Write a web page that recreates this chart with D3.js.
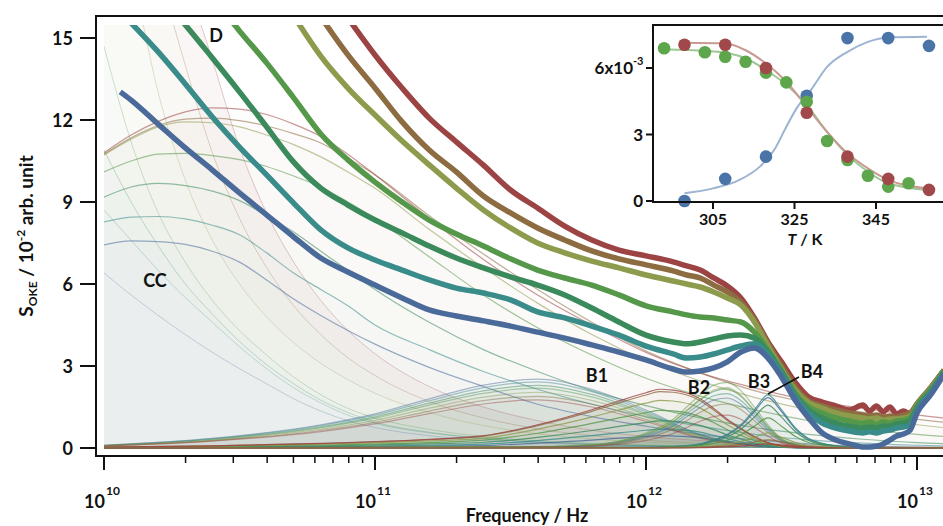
<!DOCTYPE html>
<html>
<head>
<meta charset="utf-8">
<script src="https://cdn.jsdelivr.net/npm/d3@7"></script>
<style>
  body { margin: 0; background: #fff; }
  svg { display: block; }
  text { font-family: Lato, "Open Sans", sans-serif; font-weight: 700; fill: #111; }
</style>
</head>
<body>
<div id="chart"></div>
<script>
// temperatures, low (blue) to high (red)
var tempColors = ["#4a6a9a", "#3a8c8a", "#3b8a5c", "#55984a", "#8c9c4c", "#8c6c40", "#9c4444"];

// total spectra, log10(frequency / Hz)
var logFreqTotal = [10.06, 10.1, 10.2, 10.3, 10.4, 10.5, 10.6, 10.7, 10.8, 10.9, 11.0, 11.1, 11.2, 11.3, 11.4, 11.5, 11.6, 11.7, 11.8, 11.9,
  12.0, 12.1, 12.15, 12.2, 12.25, 12.3, 12.35, 12.4, 12.45, 12.5, 12.55, 12.6, 12.65, 12.7, 12.75, 12.8, 12.825, 12.85, 12.875, 12.9,
  12.925, 12.95, 12.975, 13.0, 13.05, 13.1];
var totalBlue = [13.03, 12.73, 11.85, 10.98, 10.17, 9.33, 8.53, 7.72, 6.95, 6.44, 5.96, 5.49, 5.05, 4.83, 4.65, 4.46, 4.24, 4.02, 3.77, 3.51,
  3.22, 2.89, 2.78, 2.82, 2.93, 3.15, 3.51, 3.66, 3.29, 2.60, 1.76, 1.10, 0.55, 0.29, 0.15, 0.04, 0.04, 0.07, 0.15, 0.29,
  0.44, 0.51, 0.66, 1.28, 1.94, 2.71];
var totalTeal = [null, 15.55, 14.49, 13.32, 12.11, 11.01, 9.99, 8.96, 7.98, 7.32, 6.88, 6.51, 6.15, 5.85, 5.67, 5.42, 4.98, 4.76, 4.46, 4.13,
  3.73, 3.44, 3.29, 3.33, 3.44, 3.59, 3.73, 3.81, 3.40, 2.71, 1.87, 1.28, 0.91, 0.73, 0.62, 0.55, 0.59, 0.55, 0.62, 0.66,
  0.73, 0.77, 0.84, 1.39, 2.01, 2.74];
var totalGreenTeal = [null, null, 16.6, 15.48, 14.27, 13.03, 11.75, 10.46, 9.51, 8.89, 8.34, 7.87, 7.39, 6.95, 6.59, 6.26, 5.96, 5.60, 5.12, 4.61,
  4.13, 3.88, 3.81, 3.88, 3.99, 4.10, 4.13, 4.02, 3.51, 2.78, 1.94, 1.39, 1.10, 0.91, 0.80, 0.73, 0.77, 0.73, 0.80, 0.80,
  0.88, 0.91, 0.99, 1.46, 2.05, 2.78];
var totalGreen = [null, null, null, null, 16.5, 15.26, 14.09, 12.81, 11.49, 10.54, 9.73, 9.00, 8.34, 7.83, 7.39, 6.92, 6.51, 6.22, 5.96, 5.60,
  5.20, 4.98, 4.87, 4.79, 4.76, 4.68, 4.61, 4.24, 3.59, 2.82, 2.01, 1.50, 1.28, 1.10, 0.99, 0.91, 0.95, 0.88, 0.95, 0.91,
  0.99, 1.02, 1.10, 1.54, 2.12, 2.82];
var totalOlive = [null, null, null, null, null, null, null, 15.81, 14.34, 13.17, 12.18, 11.23, 10.36, 9.51, 8.71, 8.05, 7.50, 7.14, 6.84, 6.59,
  6.33, 6.11, 6.00, 5.89, 5.71, 5.49, 5.23, 4.61, 3.73, 2.89, 2.12, 1.65, 1.46, 1.28, 1.17, 1.10, 1.06, 1.10, 1.02, 1.06,
  1.06, 1.10, 1.17, 1.57, 2.16, 2.82];
var totalBrown = [null, null, null, null, null, null, null, null, 15.77, 14.38, 13.17, 11.93, 10.90, 10.10, 9.22, 8.60, 8.05, 7.61, 7.21, 6.92,
  6.70, 6.48, 6.33, 6.22, 5.96, 5.71, 5.34, 4.68, 3.81, 3.00, 2.23, 1.72, 1.54, 1.39, 1.28, 1.21, 1.17, 1.21, 1.13, 1.17,
  1.13, 1.21, 1.28, 1.61, 2.20, 2.85];
var totalRed = [null, null, null, null, null, null, null, null, null, 15.73, 14.38, 13.17, 12.07, 11.20, 10.35, 9.44, 8.78, 8.12, 7.61, 7.24,
  7.03, 6.81, 6.66, 6.51, 6.22, 5.93, 5.49, 4.76, 3.88, 3.15, 2.41, 1.87, 1.68, 1.54, 1.39, 1.57, 1.35, 1.54, 1.32, 1.50,
  1.24, 1.35, 1.24, 1.61, 2.20, 2.85];

// D and CC components
var logFreqComp = [10.0, 10.1, 10.2, 10.3, 10.4, 10.5, 10.6, 10.7, 10.8, 10.9, 11.0, 11.2, 11.4, 11.6, 11.8, 12.0, 12.2, 12.4, 12.6, 12.8, 13.0, 13.2];
var dBlue = [6.4, 5.6, 4.85, 4.15, 3.5, 2.9, 2.35, 1.8, 1.35, 1.0, 0.75, 0.45, 0.28, 0.18, 0.12, 0.08, 0.05, 0.03, 0.02, 0.01, 0.01, 0];
var dTeal = [8.7, 7.6, 6.5, 5.5, 4.6, 3.7, 2.9, 2.2, 1.65, 1.2, 0.9, 0.55, 0.35, 0.22, 0.14, 0.09, 0.06, 0.04, 0.02, 0.01, 0.01, 0];
var dGreenTeal = [10.9, 9.0, 7.4, 6.0, 4.9, 3.9, 3.05, 2.35, 1.75, 1.3, 0.95, 0.58, 0.36, 0.22, 0.14, 0.09, 0.06, 0.04, 0.02, 0.01, 0.01, 0];
var dGreen = [14.7, 11.2, 8.6, 6.8, 5.4, 4.3, 3.4, 2.6, 1.95, 1.45, 1.1, 0.68, 0.42, 0.26, 0.17, 0.11, 0.07, 0.04, 0.02, 0.01, 0.01, 0];
var dOlive = [21, 17.5, 13.0, 9.8, 7.6, 6.0, 4.8, 3.85, 3.1, 2.5, 2.0, 1.3, 0.82, 0.52, 0.33, 0.21, 0.13, 0.08, 0.05, 0.03, 0.02, 0.01];
var dBrown = [26, 21, 17.5, 14.0, 10.8, 8.4, 6.6, 5.2, 4.15, 3.3, 2.65, 1.7, 1.1, 0.7, 0.45, 0.28, 0.18, 0.11, 0.07, 0.04, 0.02, 0.01];
var dRed = [30, 25, 21, 17.3, 14.2, 11.0, 8.6, 6.8, 5.4, 4.3, 3.45, 2.25, 1.5, 1.0, 0.65, 0.42, 0.27, 0.17, 0.11, 0.07, 0.04, 0.02];

var ccBlue = [7.43, 7.58, 7.55, 7.45, 7.2, 6.8, 6.15, 5.45, 4.85, 4.3, 3.8, 2.95, 2.25, 1.6, 1.15, 0.8, 0.5, 0.3, 0.15, 0.06, 0.03, 0.01];
var ccTeal = [8.27, 8.45, 8.47, 8.38, 8.15, 7.8, 7.14, 6.4, 5.8, 5.2, 4.5, 3.6, 2.8, 2.15, 1.6, 1.15, 0.8, 0.5, 0.3, 0.18, 0.1, 0.05];
var ccGreenTeal = [9.18, 9.55, 9.68, 9.6, 9.4, 9.05, 8.5, 7.9, 7.2, 6.5, 5.8, 4.6, 3.6, 2.8, 2.1, 1.55, 1.1, 0.75, 0.5, 0.32, 0.2, 0.12];
var ccGreen = [10.1, 10.5, 10.75, 10.78, 10.7, 10.55, 10.3, 9.95, 9.55, 9.0, 8.4, 7.0, 5.6, 4.4, 3.4, 2.55, 1.9, 1.4, 1.0, 0.7, 0.5, 0.35];
var ccOlive = [10.72, 11.3, 11.75, 11.93, 11.9, 11.75, 11.45, 11.1, 10.65, 10.1, 9.5, 8.0, 6.6, 5.3, 4.15, 3.2, 2.45, 1.85, 1.4, 1.1, 0.85, 0.65];
var ccBrown = [10.75, 11.35, 11.8, 12.03, 12.07, 11.98, 11.78, 11.5, 11.16, 10.6, 10.0, 8.5, 7.1, 5.8, 4.6, 3.55, 2.75, 2.1, 1.65, 1.3, 1.05, 0.85];
var ccRed = [10.8, 11.45, 11.95, 12.3, 12.44, 12.4, 12.2, 11.85, 11.4, 10.75, 10.0, 8.4, 6.9, 5.6, 4.5, 3.5, 2.75, 2.2, 1.75, 1.45, 1.2, 1.0];

// B1..B4 bands
var logFreqB1 = [10.0, 10.4, 10.8, 11.0, 11.2, 11.4, 11.6, 11.8, 12.0, 12.2, 12.4, 12.6, 13.2];
var b1Blue = [0.1, 0.35, 0.85, 1.25, 1.8, 2.3, 2.52, 2.15, 1.39, 0.5, 0.12, 0.02, 0];
var b1Teal = [0.1, 0.34, 0.82, 1.2, 1.73, 2.21, 2.42, 2.06, 1.33, 0.48, 0.12, 0.02, 0];
var b1GreenTeal = [0.09, 0.32, 0.77, 1.14, 1.64, 2.09, 2.29, 1.96, 1.26, 0.46, 0.11, 0.02, 0];
var b1Green = [0.09, 0.3, 0.74, 1.09, 1.57, 2.0, 2.19, 1.87, 1.21, 0.44, 0.1, 0.02, 0];
var b1Olive = [0.08, 0.28, 0.69, 1.01, 1.46, 1.86, 2.04, 1.74, 1.13, 0.41, 0.1, 0.02, 0];
var b1Brown = [0.08, 0.26, 0.64, 0.94, 1.35, 1.73, 1.89, 1.61, 1.04, 0.38, 0.09, 0.01, 0];
var b1Red = [0.07, 0.25, 0.6, 0.88, 1.26, 1.61, 1.76, 1.5, 0.97, 0.35, 0.08, 0.01, 0];

var logFreqB2 = [10.0, 10.4, 10.8, 11.2, 11.4, 11.6, 11.8, 11.9, 12.0, 12.05, 12.1, 12.2, 12.25, 12.3, 12.35, 12.4, 12.45, 12.5, 12.6, 13.2];
var b2Blue = [0.01, 0.02, 0.04, 0.07, 0.09, 0.18, 0.29, 0.36, 0.42, 0.45, 0.44, 0.38, 0.3, 0.22, 0.15, 0.09, 0.04, 0.02, 0, 0];
var b2Teal = [0.01, 0.03, 0.05, 0.1, 0.14, 0.27, 0.45, 0.55, 0.65, 0.69, 0.68, 0.58, 0.46, 0.34, 0.23, 0.13, 0.06, 0.03, 0, 0];
var b2GreenTeal = [0.01, 0.04, 0.08, 0.15, 0.21, 0.39, 0.64, 0.79, 0.93, 0.99, 0.98, 0.83, 0.67, 0.48, 0.33, 0.19, 0.09, 0.04, 0, 0];
var b2Green = [0.02, 0.05, 0.11, 0.2, 0.29, 0.54, 0.9, 1.1, 1.29, 1.38, 1.36, 1.15, 0.93, 0.67, 0.46, 0.27, 0.13, 0.05, 0.01, 0];
var b2Olive = [0.02, 0.06, 0.14, 0.26, 0.36, 0.69, 1.13, 1.39, 1.64, 1.74, 1.72, 1.46, 1.17, 0.85, 0.58, 0.34, 0.16, 0.06, 0.01, 0];
var b2Brown = [0.03, 0.08, 0.16, 0.31, 0.43, 0.82, 1.34, 1.65, 1.94, 2.06, 2.04, 1.73, 1.39, 1.01, 0.69, 0.4, 0.19, 0.08, 0.01, 0];
var b2Red = [0.03, 0.08, 0.17, 0.32, 0.45, 0.85, 1.4, 1.72, 2.02, 2.15, 2.12, 1.8, 1.45, 1.05, 0.72, 0.42, 0.2, 0.08, 0.01, 0];

var logFreqB3 = [10.0, 11.6, 11.8, 11.9, 12.0, 12.1, 12.15, 12.2, 12.25, 12.3, 12.35, 12.4, 12.45, 12.5, 12.55, 12.6, 12.7, 13.2];
var b3Blue = [0, 0.04, 0.09, 0.19, 0.42, 0.8, 1.14, 1.48, 1.75, 1.83, 1.6, 1.14, 0.65, 0.27, 0.11, 0.04, 0, 0];
var b3Teal = [0, 0.04, 0.1, 0.21, 0.46, 0.87, 1.25, 1.62, 1.91, 1.99, 1.74, 1.25, 0.71, 0.29, 0.12, 0.04, 0, 0];
var b3GreenTeal = [0, 0.05, 0.11, 0.23, 0.5, 0.95, 1.35, 1.76, 2.07, 2.16, 1.89, 1.35, 0.77, 0.32, 0.14, 0.05, 0, 0];
var b3Green = [0, 0.05, 0.12, 0.25, 0.55, 1.05, 1.5, 1.95, 2.3, 2.4, 2.1, 1.5, 0.85, 0.35, 0.15, 0.05, 0, 0];
var b3Olive = [0, 0.05, 0.11, 0.23, 0.51, 0.97, 1.38, 1.79, 2.12, 2.21, 1.93, 1.38, 0.78, 0.32, 0.14, 0.05, 0, 0];
var b3Brown = [0, 0.03, 0.08, 0.17, 0.37, 0.7, 1.0, 1.31, 1.54, 1.61, 1.41, 1.0, 0.57, 0.23, 0.1, 0.03, 0, 0];
var b3Red = [0, 0.03, 0.06, 0.13, 0.28, 0.53, 0.75, 0.98, 1.15, 1.2, 1.05, 0.75, 0.43, 0.18, 0.08, 0.03, 0, 0];

var logFreqB4 = [10.0, 12.0, 12.1, 12.2, 12.25, 12.3, 12.35, 12.4, 12.45, 12.5, 12.55, 12.6, 12.7, 12.8, 13.2];
var b4Blue = [0, 0.02, 0.05, 0.14, 0.29, 0.48, 0.81, 1.33, 1.84, 1.33, 0.71, 0.33, 0.08, 0.01, 0];
var b4Teal = [0, 0.02, 0.05, 0.15, 0.3, 0.5, 0.85, 1.4, 1.94, 1.4, 0.75, 0.35, 0.08, 0.01, 0];
var b4GreenTeal = [0, 0.02, 0.04, 0.12, 0.24, 0.41, 0.69, 1.13, 1.57, 1.13, 0.61, 0.28, 0.06, 0.01, 0];
var b4Green = [0, 0.01, 0.03, 0.09, 0.17, 0.29, 0.48, 0.8, 1.1, 0.8, 0.43, 0.2, 0.05, 0.01, 0];
var b4Olive = [0, 0.01, 0.01, 0.04, 0.08, 0.14, 0.24, 0.39, 0.55, 0.39, 0.21, 0.1, 0.02, 0, 0];
var b4Brown = [0, 0, 0.01, 0.02, 0.05, 0.08, 0.13, 0.22, 0.3, 0.22, 0.11, 0.05, 0.01, 0, 0];
var b4Red = [0, 0, 0, 0.01, 0.02, 0.04, 0.07, 0.11, 0.15, 0.11, 0.06, 0.03, 0.01, 0, 0];

var yTicks = [0, 3, 6, 9, 12, 15];
var xDecades = [10, 11, 12, 13];

// inset: amplitude vs temperature
var insetTemps = [298, 308, 318, 328, 338, 348, 358];
var insetBlue = [0, 1.0, 2.0, 4.75, 7.35, 7.35, 7.0];
var insetRed = [7.05, 7.05, 6.0, 3.98, 2.0, 1.0, 0.5];
var insetGreenTemps = [293, 303, 308, 313, 318, 323, 328, 333, 338, 343, 348, 353];
var insetGreen = [6.89, 6.71, 6.51, 6.28, 5.79, 5.35, 4.48, 2.71, 1.85, 1.14, 0.65, 0.8];
var fitBlueT = [298, 305, 311.5, 316.5, 320, 323, 325.5, 329, 333, 338, 343, 348, 357.5];
var fitBlue = [0.35, 0.57, 0.95, 1.55, 2.3, 3.35, 4.18, 5.0, 6.05, 6.73, 7.18, 7.38, 7.41];
var fitRedT = [298, 308, 313, 318, 323, 328, 333, 338, 343, 348, 357.5];
var fitRed = [7.14, 7.1, 6.8, 6.2, 5.38, 4.25, 3.12, 2.15, 1.47, 0.95, 0.57];
var fitGreenT = [293.5, 303, 308, 313, 318, 323, 328, 333, 338, 343, 348, 357.5];
var fitGreen = [6.84, 6.78, 6.69, 6.44, 5.91, 5.24, 4.33, 3.12, 2.08, 1.32, 0.8, 0.5];
var insetXTicks = [305, 325, 345];

var totals = [totalBlue, totalTeal, totalGreenTeal, totalGreen, totalOlive, totalBrown, totalRed];
var dComps = [dBlue, dTeal, dGreenTeal, dGreen, dOlive, dBrown, dRed];
var ccComps = [ccBlue, ccTeal, ccGreenTeal, ccGreen, ccOlive, ccBrown, ccRed];
var b1Comps = [b1Blue, b1Teal, b1GreenTeal, b1Green, b1Olive, b1Brown, b1Red];
var b2Comps = [b2Blue, b2Teal, b2GreenTeal, b2Green, b2Olive, b2Brown, b2Red];
var b3Comps = [b3Blue, b3Teal, b3GreenTeal, b3Green, b3Olive, b3Brown, b3Red];
var b4Comps = [b4Blue, b4Teal, b4GreenTeal, b4Green, b4Olive, b4Brown, b4Red];

var svg = d3.select("#chart").append("svg")
    .attr("width", 943)
    .attr("height", 526);

var x = d3.scaleLog().domain([1e10, 1e13]).range([104, 917]);
var y = d3.scaleLinear().domain([0, 15]).range([448, 38]);

function pts(exps, vals) {
    return exps.map(function(e, i) { return {f: Math.pow(10, e), v: vals[i]}; });
}

var line = d3.line()
    .defined(function(d) { return d.v != null; })
    .x(function(d) { return x(d.f); })
    .y(function(d) { return y(d.v); })
    .curve(d3.curveMonotoneX);

var area = d3.area()
    .defined(function(d) { return d.v != null; })
    .x(function(d) { return x(d.f); })
    .y0(y(0))
    .y1(function(d) { return y(d.v); })
    .curve(d3.curveMonotoneX);

function tint(c, t) { return d3.interpolateRgb("#ffffff", c)(t); }

svg.append("clipPath").attr("id", "plotclip")
  .append("rect").attr("x", 104).attr("y", 25).attr("width", 845).attr("height", 428);

var gPlot = svg.append("g").attr("clip-path", "url(#plotclip)");

// D fills, red at the back
for (var i = 6; i >= 0; i--) {
    gPlot.append("path").attr("d", area(pts(logFreqComp, dComps[i])))
        .attr("fill", tint(tempColors[i], 0.05));
}
// CC fills
ccComps.forEach(function(c, i) {
    gPlot.append("path").attr("d", area(pts(logFreqComp, c)))
        .attr("fill", tempColors[i]).attr("fill-opacity", 0.01);
});
// B fills
[[logFreqB1, b1Comps], [logFreqB2, b2Comps], [logFreqB3, b3Comps], [logFreqB4, b4Comps]].forEach(function(g) {
    g[1].forEach(function(c, i) {
        gPlot.append("path").attr("d", area(pts(g[0], c)))
            .attr("fill", tempColors[i]).attr("fill-opacity", 0.025);
    });
});

// thin component lines
function thin(exps, comps, op, w) {
    comps.forEach(function(c, i) {
        gPlot.append("path").attr("d", line(pts(exps, c)))
            .attr("fill", "none")
            .attr("stroke", tempColors[i])
            .attr("stroke-opacity", op)
            .attr("stroke-width", w);
    });
}
thin(logFreqComp, dComps, 0.28, 1);
thin(logFreqComp, ccComps, 0.55, 1.2);
thin(logFreqB1, b1Comps, 0.45, 1.2);
thin(logFreqB2, b2Comps, 0.8, 1.2);
thin(logFreqB3, b3Comps, 0.5, 1.2);
thin(logFreqB4, b4Comps, 0.85, 1.2);

// total spectra, blue on top
for (var j = 6; j >= 0; j--) {
    gPlot.append("path").attr("d", line(pts(logFreqTotal, totals[j])))
        .attr("fill", "none")
        .attr("stroke", tempColors[j])
        .attr("stroke-width", 5.5)
        .attr("stroke-linejoin", "round");
}

// frame
svg.append("path").attr("d", "M943,16H96V456H943")
    .attr("fill", "none").attr("stroke", "#111").attr("stroke-width", 2);

// y axis
yTicks.forEach(function(t) {
    svg.append("line").attr("x1", 80).attr("x2", 96).attr("y1", y(t)).attr("y2", y(t))
        .attr("stroke", "#111").attr("stroke-width", 2);
    svg.append("text").attr("x", 73).attr("y", y(t) + 6.5).attr("text-anchor", "end")
        .style("font-size", "18px").text(t);
});

// x axis ticks, major and minor
xDecades.forEach(function(p) {
    var base = Math.pow(10, p);
    svg.append("line").attr("x1", x(base)).attr("x2", x(base)).attr("y1", 456).attr("y2", 470)
        .attr("stroke", "#111").attr("stroke-width", 2);
    svg.append("text").attr("x", x(base) + 1).attr("y", 508).attr("text-anchor", "end")
        .style("font-size", "18px").text("10");
    svg.append("text").attr("x", x(base) + 2).attr("y", 495)
        .style("font-size", "12px").text(p);
    if (p < 13) {
        for (var m = 2; m <= 9; m++) {
            svg.append("line").attr("x1", x(m * base)).attr("x2", x(m * base)).attr("y1", 456).attr("y2", 463)
                .attr("stroke", "#111").attr("stroke-width", 1.5);
        }
    }
});

svg.append("text").attr("x", 527).attr("y", 522).attr("text-anchor", "middle")
    .style("font-size", "18px").text("Frequency / Hz");

var ylab = svg.append("text")
    .attr("transform", "translate(33,236) rotate(-90)")
    .attr("text-anchor", "middle")
    .style("font-size", "19px");
ylab.append("tspan").text("S");
ylab.append("tspan").attr("dy", 4).style("font-size", "12px").text("OKE");
ylab.append("tspan").attr("dy", -4).text(" / 10");
ylab.append("tspan").attr("dy", -8).style("font-size", "12px").text("-2");
ylab.append("tspan").attr("dy", 8).text(" arb. unit");

// component labels
[["D", 216, 41.5], ["CC", 155, 286.5], ["B1", 597, 381.5], ["B2", 699, 393.5], ["B3", 759, 387.5], ["B4", 812, 377.5]].forEach(function(l) {
    svg.append("text").attr("x", l[1]).attr("y", l[2]).attr("text-anchor", "middle")
        .style("font-size", "18px").text(l[0]);
});
svg.append("line").attr("x1", x(Math.pow(10, 12.45))).attr("y1", y(1.94) - 1).attr("x2", 799).attr("y2", 377)
    .attr("stroke", "#111").attr("stroke-width", 1.5);

// inset
var ix = d3.scaleLinear().domain([305, 345]).range([713, 876]);
var iy = d3.scaleLinear().domain([0, 6]).range([201, 68]);
var gIn = svg.append("g");
gIn.append("rect").attr("x", 653).attr("y", 25).attr("width", 300).attr("height", 177).attr("fill", "#fff");

var iline = d3.line().x(function(d) { return ix(d[0]); }).y(function(d) { return iy(d[1]); }).curve(d3.curveMonotoneX);
function zip(a, b) { return a.map(function(t, i) { return [t, b[i]]; }); }

gIn.append("path").attr("d", iline(zip(fitGreenT, fitGreen))).attr("fill", "none").attr("stroke", "#9cc894").attr("stroke-width", 2);
gIn.append("path").attr("d", iline(zip(fitRedT, fitRed))).attr("fill", "none").attr("stroke", "#c89a92").attr("stroke-width", 2);
gIn.append("path").attr("d", iline(zip(fitBlueT, fitBlue))).attr("fill", "none").attr("stroke", "#9cb4d2").attr("stroke-width", 2);

function dots(ts, vs, col) {
    gIn.selectAll(null).data(zip(ts, vs)).enter().append("circle")
        .attr("cx", function(d) { return ix(d[0]); })
        .attr("cy", function(d) { return iy(d[1]); })
        .attr("r", 6.3)
        .attr("fill", col);
}
dots(insetTemps, insetBlue, "#4a74a8");
dots(insetGreenTemps, insetGreen, "#5ea64c");
dots(insetTemps, insetRed, "#a0484a");

gIn.append("path").attr("d", "M943,25H653V202H943")
    .attr("fill", "none").attr("stroke", "#111").attr("stroke-width", 2);
[0, 3, 6].forEach(function(t) {
    gIn.append("line").attr("x1", 646).attr("x2", 653).attr("y1", iy(t)).attr("y2", iy(t))
        .attr("stroke", "#111").attr("stroke-width", 2);
});
gIn.append("text").attr("x", 643).attr("y", iy(0) + 6).attr("text-anchor", "end").style("font-size", "17px").text("0");
gIn.append("text").attr("x", 643).attr("y", iy(3) + 6).attr("text-anchor", "end").style("font-size", "17px").text("3");
gIn.append("text").attr("x", 633).attr("y", iy(6) + 6).attr("text-anchor", "end").style("font-size", "17px").text("6x10");
gIn.append("text").attr("x", 633).attr("y", iy(6) - 3).style("font-size", "11px").text("-3");
insetXTicks.forEach(function(t) {
    gIn.append("line").attr("x1", ix(t)).attr("x2", ix(t)).attr("y1", 202).attr("y2", 209)
        .attr("stroke", "#111").attr("stroke-width", 2);
    gIn.append("text").attr("x", ix(t)).attr("y", 225).attr("text-anchor", "middle").style("font-size", "16px").text(t);
});
var tl = gIn.append("text").attr("x", 805).attr("y", 245).attr("text-anchor", "middle").style("font-size", "16px");
tl.append("tspan").style("font-style", "italic").text("T");
tl.append("tspan").text(" / K");
</script>
</body>
</html>
